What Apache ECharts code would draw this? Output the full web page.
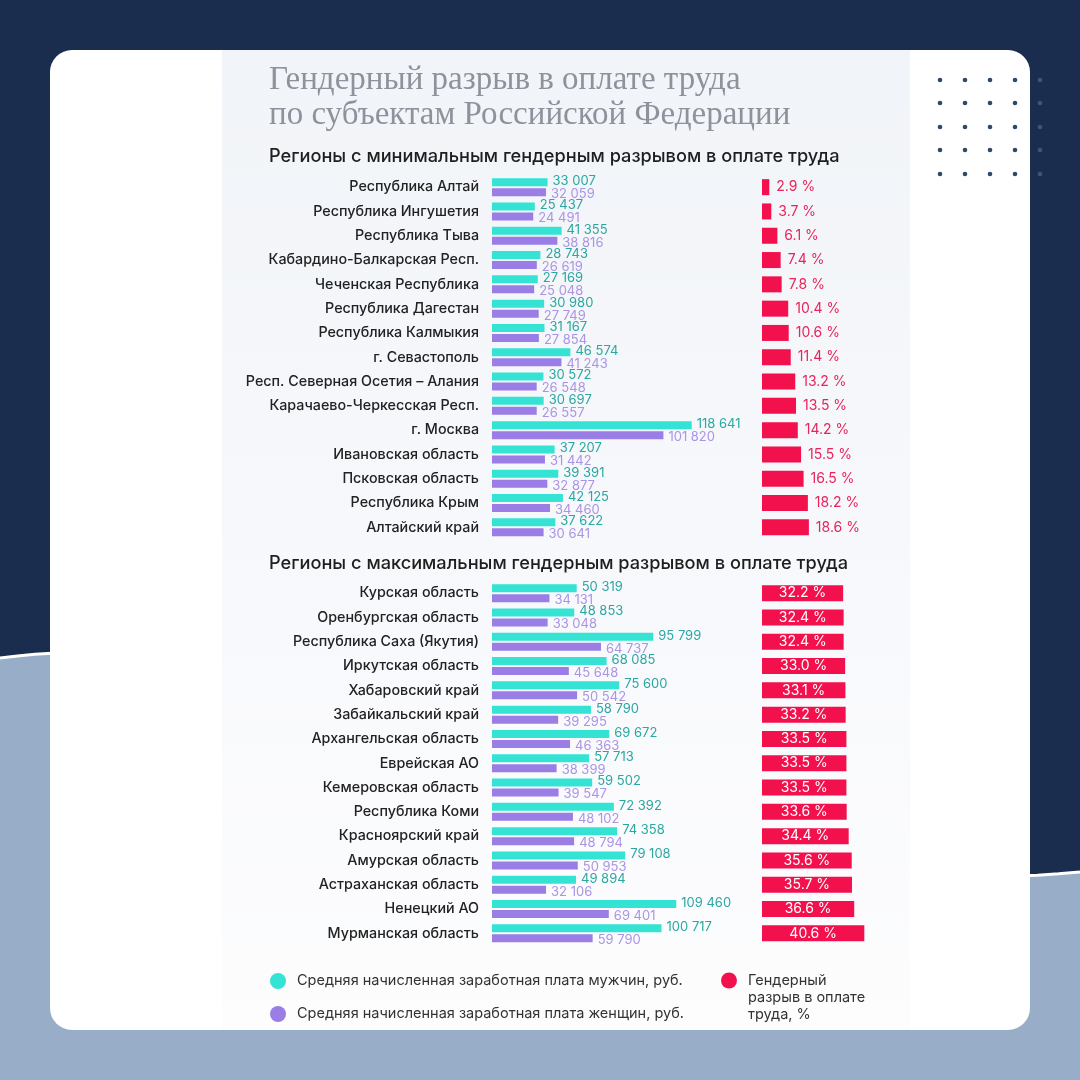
<!DOCTYPE html>
<html><head><meta charset="utf-8">
<script src="https://cdn.jsdelivr.net/npm/echarts@6/dist/echarts.min.js"></script>
<style>html,body{margin:0;padding:0;background:#1b2d4e}#c{width:1080px;height:1080px}</style>
</head><body><div id="c"></div>
<script>
const minRegions = ['Республика Алтай','Республика Ингушетия','Республика Тыва','Кабардино-Балкарская Респ.','Чеченская Республика','Республика Дагестан','Республика Калмыкия','г. Севастополь','Респ. Северная Осетия – Алания','Карачаево-Черкесская Респ.','г. Москва','Ивановская область','Псковская область','Республика Крым','Алтайский край'];
const minMale = [33007,25437,41355,28743,27169,30980,31167,46574,30572,30697,118641,37207,39391,42125,37622];
const minFemale = [32059,24491,38816,26619,25048,27749,27854,41243,26548,26557,101820,31442,32877,34460,30641];
const minGap = [2.9,3.7,6.1,7.4,7.8,10.4,10.6,11.4,13.2,13.5,14.2,15.5,16.5,18.2,18.6];

const maxRegions = ['Курская область','Оренбургская область','Республика Саха (Якутия)','Иркутская область','Хабаровский край','Забайкальский край','Архангельская область','Еврейская АО','Кемеровская область','Республика Коми','Красноярский край','Амурская область','Астраханская область','Ненецкий АО','Мурманская область'];
const maxMale = [50319,48853,95799,68085,75600,58790,69672,57713,59502,72392,74358,79108,49894,109460,100717];
const maxFemale = [34131,33048,64737,45648,50542,39295,46363,38399,39547,48102,48794,50953,32106,69401,59790];
const maxGap = [32.2,32.4,32.4,33.0,33.1,33.2,33.5,33.5,33.5,33.6,34.4,35.6,35.7,36.6,40.6];

const titleLines = ['Гендерный разрыв в оплате труда','по субъектам Российской Федерации'];
const headMin = 'Регионы с минимальным гендерным разрывом в оплате труда';
const headMax = 'Регионы с максимальным гендерным разрывом в оплате труда';
const nameMale = 'Средняя начисленная заработная плата мужчин, руб.';
const nameFemale = 'Средняя начисленная заработная плата женщин, руб.';
const nameGap = 'Гендерный\nразрыв в оплате\nтруда, %';

const TEAL = '#34e3d3', PURPLE = '#9a7ee6', RED = '#f2104d';
const FONT = 'Inter';
const fmtNum = v => String(v).replace(/\B(?=(\d{3})+(?!\d))/g, ' ');
const fmtPct = v => v.toFixed(1) + ' %';

const chart = echarts.init(document.getElementById('c'));

// decorative background wave (cubic bezier sampled into points)
const wave = [];
(function(){
  const P = [[0,658],[350,610],[650,915],[1080,872]];
  for (let i=0;i<=60;i++){
    const t=i/60, u=1-t;
    const x=u*u*u*P[0][0]+3*u*u*t*P[1][0]+3*u*t*t*P[2][0]+t*t*t*P[3][0];
    const y=u*u*u*P[0][1]+3*u*u*t*P[1][1]+3*u*t*t*P[2][1]+t*t*t*P[3][1];
    wave.push([x,y]);
  }
})();

const dots = [];
[940,965,990,1015,1040].forEach((x,i)=>[80,103,127,150,174].forEach(y=>dots.push({
  type:'circle', shape:{cx:x, cy:y, r:2.3}, style:{fill: i===4 ? '#3b5676' : '#2f4a69'}, z:0
})));

function salaryY(gi, data){
  return {gridIndex: gi, type:'category', inverse:true, data:data,
    axisLine:{show:false}, axisTick:{show:false},
    axisLabel:{margin:13, fontFamily:FONT, fontSize:14.3, fontWeight:500, color:'#222'}};
}
function hiddenY(gi, data){
  return {gridIndex: gi, type:'category', inverse:true, data:data,
    axisLine:{show:false}, axisTick:{show:false}, axisLabel:{show:false}};
}
function valX(gi, max){
  return {gridIndex: gi, type:'value', min:0, max:max, show:false, splitLine:{show:false}};
}
function salarySeries(name, color, data, xi, yi, labelColor, off){
  return {name:name, type:'bar', xAxisIndex:xi, yAxisIndex:yi, data:data, barWidth:8, barGap:'25%',
    itemStyle:{color:color},
    label:{show:true, position:'right', distance:5, offset:[0,off], formatter:p=>fmtNum(p.value),
      fontFamily:FONT, fontSize:13, color:labelColor}};
}
function gapSeries(data, xi, yi, inside){
  return {name:nameGap, type:'bar', xAxisIndex:xi, yAxisIndex:yi, data:data, barWidth:16,
    itemStyle:{color:RED},
    label: inside
      ? {show:true, position:'inside', formatter:p=>fmtPct(p.value), fontFamily:FONT, fontSize:14, color:'#fff'}
      : {show:true, position:'right', distance:7, formatter:p=>fmtPct(p.value), fontFamily:FONT, fontSize:14, color:'#e8245a'}};
}

chart.setOption({
  animation:false,
  graphic:[
    {type:'rect', shape:{x:0,y:0,width:1080,height:1080}, style:{fill:'#1b2d4e'}, z:0},
    {type:'polygon', shape:{points: wave.concat([[1080,1080],[0,1080]])}, style:{fill:'#98adc8'}, z:0},
    {type:'polyline', shape:{points: wave}, style:{stroke:'#ffffff', lineWidth:3, fill:null}, z:0},
    {type:'rect', shape:{x:50,y:50,width:980,height:980,r:22}, style:{fill:'#ffffff'}, z:0},
    {type:'rect', shape:{x:222,y:50,width:688,height:980},
      style:{fill:{type:'linear', x:0, y:0, x2:0, y2:1, colorStops:[{offset:0,color:'#f1f4f8'},{offset:0.6,color:'#f8f9fc'},{offset:1,color:'#fdfdfe'}]}}, z:0},
    ...dots,
    {type:'text', x:269, y:64, style:{text:titleLines[0], fontFamily:'Liberation Serif', fontSize:33, fill:'#8d929c'}, z:1},
    {type:'text', x:269, y:99, style:{text:titleLines[1], fontFamily:'Liberation Serif', fontSize:33, fill:'#8d929c'}, z:1},
    {type:'text', x:269, y:148, style:{text:headMin, fontFamily:FONT, fontSize:18.2, fontWeight:500, fill:'#1e1e1e'}, z:1},
    {type:'text', x:269, y:555, style:{text:headMax, fontFamily:FONT, fontSize:18.2, fontWeight:500, fill:'#1e1e1e'}, z:1}
  ],
  legend:[
    {data:[nameMale, nameFemale], orient:'vertical', left:270, top:973, padding:0, itemWidth:28, itemHeight:16, itemGap:17,
      icon:'circle', selectedMode:false, textStyle:{fontFamily:FONT, fontSize:14.5, color:'#333'}},
    {data:[nameGap], left:721, top:938, padding:0, itemWidth:28, itemHeight:16, icon:'circle', selectedMode:false,
      formatter: n => ' \n \n' + n,
      textStyle:{fontFamily:FONT, fontSize:14.5, color:'#333', lineHeight:17}}
  ],
  grid:[
    {left:492, top:175, width:202, height:364.5},
    {left:762, top:175, width:126, height:364.5},
    {left:492, top:581, width:202, height:364.5},
    {left:762, top:581, width:126, height:364.5}
  ],
  xAxis:[valX(0,120000), valX(1,50), valX(2,120000), valX(3,50)],
  yAxis:[salaryY(0,minRegions), hiddenY(1,minRegions), salaryY(2,maxRegions), hiddenY(3,maxRegions)],
  series:[
    salarySeries(nameMale, TEAL, minMale, 0, 0, '#2aa7a1', -1),
    salarySeries(nameFemale, PURPLE, minFemale, 0, 0, '#ab94e6', 2),
    gapSeries(minGap, 1, 1, false),
    salarySeries(nameMale, TEAL, maxMale, 2, 2, '#2aa7a1', -1),
    salarySeries(nameFemale, PURPLE, maxFemale, 2, 2, '#ab94e6', 2),
    gapSeries(maxGap, 3, 3, true)
  ]
});
</script></body></html>
